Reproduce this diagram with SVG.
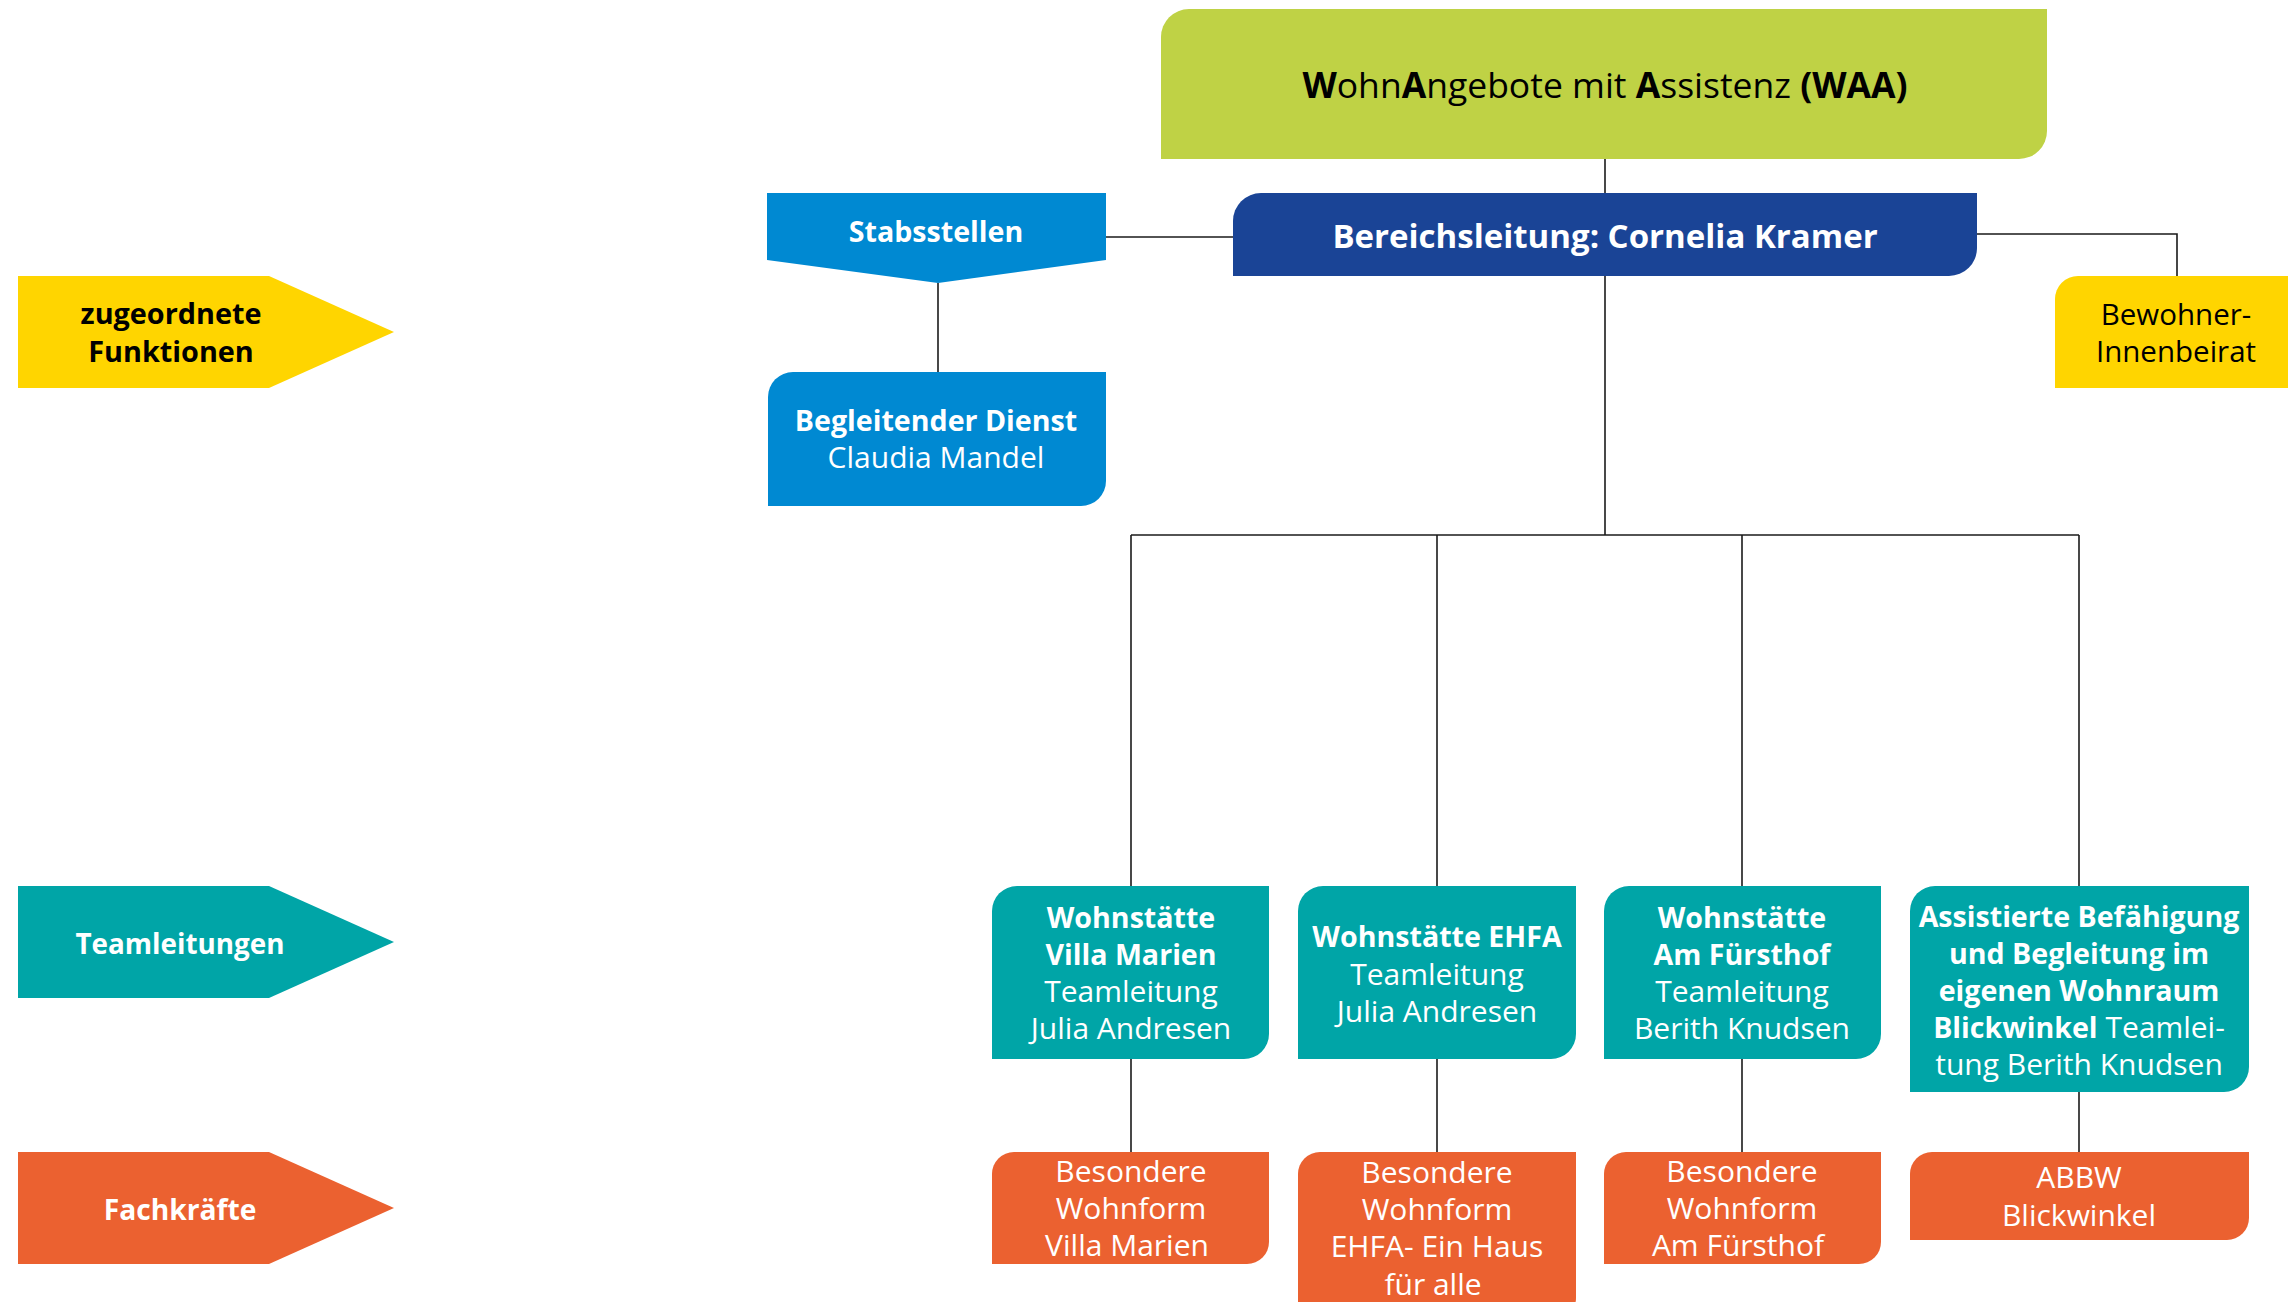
<svg xmlns="http://www.w3.org/2000/svg" width="2288" height="1302" viewBox="0 0 2288 1302">
<style>
text{font-family:"Open Sans","Noto Sans","DejaVu Sans",sans-serif;text-anchor:middle}
.w{fill:#fff}.k{fill:#000}
.b{font-weight:700}
.t30{font-size:30px}
.bt{font-size:28.6px;font-weight:700}
.green{fill:#BFD245}.dblue{fill:#1A4496}.lblue{fill:#0089D2}.yel{fill:#FFD500}.teal{fill:#00A5A7}.org{fill:#EB6130}
.con line,.con polyline{stroke:#1a1a1a;stroke-width:1.6;fill:none}
</style>
<rect width="2288" height="1302" fill="#fff"/>
<g class="con">
<line x1="1605" y1="159" x2="1605" y2="193"/>
<line x1="1605" y1="276" x2="1605" y2="535"/>
<line x1="1131" y1="535" x2="2079" y2="535"/>
<line x1="1131" y1="535" x2="1131" y2="886"/>
<line x1="1437" y1="535" x2="1437" y2="886"/>
<line x1="1742" y1="535" x2="1742" y2="886"/>
<line x1="2079" y1="535" x2="2079" y2="886"/>
<line x1="1106" y1="237" x2="1233" y2="237"/>
<polyline points="1977,234 2177,234 2177,276"/>
<line x1="938" y1="283" x2="938" y2="372"/>
<line x1="1131" y1="1059" x2="1131" y2="1152"/>
<line x1="1437" y1="1059" x2="1437" y2="1152"/>
<line x1="1742" y1="1059" x2="1742" y2="1152"/>
<line x1="2079" y1="1092" x2="2079" y2="1152"/>
</g>
<g id="waa">
<path class="green" d="M1161,159 V37 A28,28 0 0 1 1189,9 H2047 V131 A28,28 0 0 1 2019,159 Z"/>
<text x="1605" y="98" class="k" style="font-size:35.5px"><tspan class="b">W</tspan>ohn<tspan class="b">A</tspan>ngebote mit <tspan class="b">A</tspan>ssistenz <tspan class="b">(WAA)</tspan></text>
</g>
<g id="bereichsleitung">
<path class="dblue" d="M1233,276 V221 A28,28 0 0 1 1261,193 H1977 V248 A28,28 0 0 1 1949,276 Z"/>
<text x="1605" y="248" class="w b" style="font-size:33px">Bereichsleitung: Cornelia Kramer</text>
</g>
<g id="stabsstellen">
<polygon class="lblue" points="767,193 1106,193 1106,260 938,283 767,260"/>
<text x="936" y="242" class="w bt">Stabsstellen</text>
</g>
<g id="begleitender">
<path class="lblue" d="M768,506 V397 A25,25 0 0 1 793,372 H1106 V481 A25,25 0 0 1 1081,506 Z"/>
<text x="936" y="431" class="w bt">Begleitender Dienst</text>
<text x="936" y="468" class="w t30">Claudia Mandel</text>
</g>
<g id="beirat">
<path class="yel" d="M2055,388 V299 A23,23 0 0 1 2078,276 H2288 V388 Z"/>
<text x="2176" y="325" class="k" style="font-size:29.5px">Bewohner-</text>
<text x="2176" y="362" class="k" style="font-size:29.5px">Innenbeirat</text>
</g>
<g id="label-funktionen">
<polygon class="yel" points="18,276 269,276 394,332 269,388 18,388"/>
<text x="171" y="324" class="k b" style="font-size:28.8px">zugeordnete</text>
<text x="171" y="362" class="k b" style="font-size:28.8px">Funktionen</text>
</g>
<g id="label-teamleitungen">
<polygon class="teal" points="18,886 269,886 394,942 269,998 18,998"/>
<text x="180" y="954" class="w b" style="font-size:27.8px">Teamleitungen</text>
</g>
<g id="label-fachkraefte">
<polygon class="org" points="18,1152 269,1152 394,1208 269,1264 18,1264"/>
<text x="180" y="1220" class="w b" style="font-size:28.2px">Fachkräfte</text>
</g>
<g id="team-villa">
<path class="teal" d="M992,1059 V911 A25,25 0 0 1 1017,886 H1269 V1034 A25,25 0 0 1 1244,1059 Z"/>
<text x="1131" y="928" class="w bt">Wohnstätte</text>
<text x="1131" y="965" class="w bt">Villa Marien</text>
<text x="1131" y="1002" class="w t30">Teamleitung</text>
<text x="1131" y="1039" class="w t30">Julia Andresen</text>
</g>
<g id="team-ehfa">
<path class="teal" d="M1298,1059 V911 A25,25 0 0 1 1323,886 H1576 V1034 A25,25 0 0 1 1551,1059 Z"/>
<text x="1437" y="947" class="w bt">Wohnstätte EHFA</text>
<text x="1437" y="985" class="w t30">Teamleitung</text>
<text x="1437" y="1022" class="w t30">Julia Andresen</text>
</g>
<g id="team-fuersthof">
<path class="teal" d="M1604,1059 V911 A25,25 0 0 1 1629,886 H1881 V1034 A25,25 0 0 1 1856,1059 Z"/>
<text x="1742" y="928" class="w bt">Wohnstätte</text>
<text x="1742" y="965" class="w bt">Am Fürsthof</text>
<text x="1742" y="1002" class="w t30">Teamleitung</text>
<text x="1742" y="1039" class="w t30">Berith Knudsen</text>
</g>
<g id="team-blickwinkel">
<path class="teal" d="M1910,1092 V911 A25,25 0 0 1 1935,886 H2249 V1067 A25,25 0 0 1 2224,1092 Z"/>
<text x="2079" y="927" class="w bt">Assistierte Befähigung</text>
<text x="2079" y="964" class="w bt">und Begleitung im</text>
<text x="2079" y="1001" class="w bt">eigenen Wohnraum</text>
<text x="2079" y="1038" class="w t30"><tspan class="bt">Blickwinkel</tspan> Teamlei-</text>
<text x="2079" y="1075" class="w t30">tung Berith Knudsen</text>
</g>
<g id="fach-villa">
<path class="org" d="M992,1264 V1174 A22,22 0 0 1 1014,1152 H1269 V1242 A22,22 0 0 1 1247,1264 Z"/>
<text x="1131" y="1182" class="w t30">Besondere</text>
<text x="1131" y="1219" class="w t30">Wohnform</text>
<text x="1127" y="1256" class="w t30">Villa Marien</text>
</g>
<g id="fach-ehfa">
<path class="org" d="M1298,1320 V1174 A22,22 0 0 1 1320,1152 H1576 V1298 A22,22 0 0 1 1554,1320 Z"/>
<text x="1437" y="1183" class="w t30">Besondere</text>
<text x="1437" y="1220" class="w t30">Wohnform</text>
<text x="1437" y="1257" class="w t30">EHFA- Ein Haus</text>
<text x="1433" y="1295" class="w t30">für alle</text>
</g>
<g id="fach-fuersthof">
<path class="org" d="M1604,1264 V1174 A22,22 0 0 1 1626,1152 H1881 V1242 A22,22 0 0 1 1859,1264 Z"/>
<text x="1742" y="1182" class="w t30">Besondere</text>
<text x="1742" y="1219" class="w t30">Wohnform</text>
<text x="1738" y="1256" class="w t30">Am Fürsthof</text>
</g>
<g id="fach-blickwinkel">
<path class="org" d="M1910,1240 V1174 A22,22 0 0 1 1932,1152 H2249 V1218 A22,22 0 0 1 2227,1240 Z"/>
<text x="2079" y="1188" class="w t30">ABBW</text>
<text x="2079" y="1226" class="w t30">Blickwinkel</text>
</g>
</svg>
